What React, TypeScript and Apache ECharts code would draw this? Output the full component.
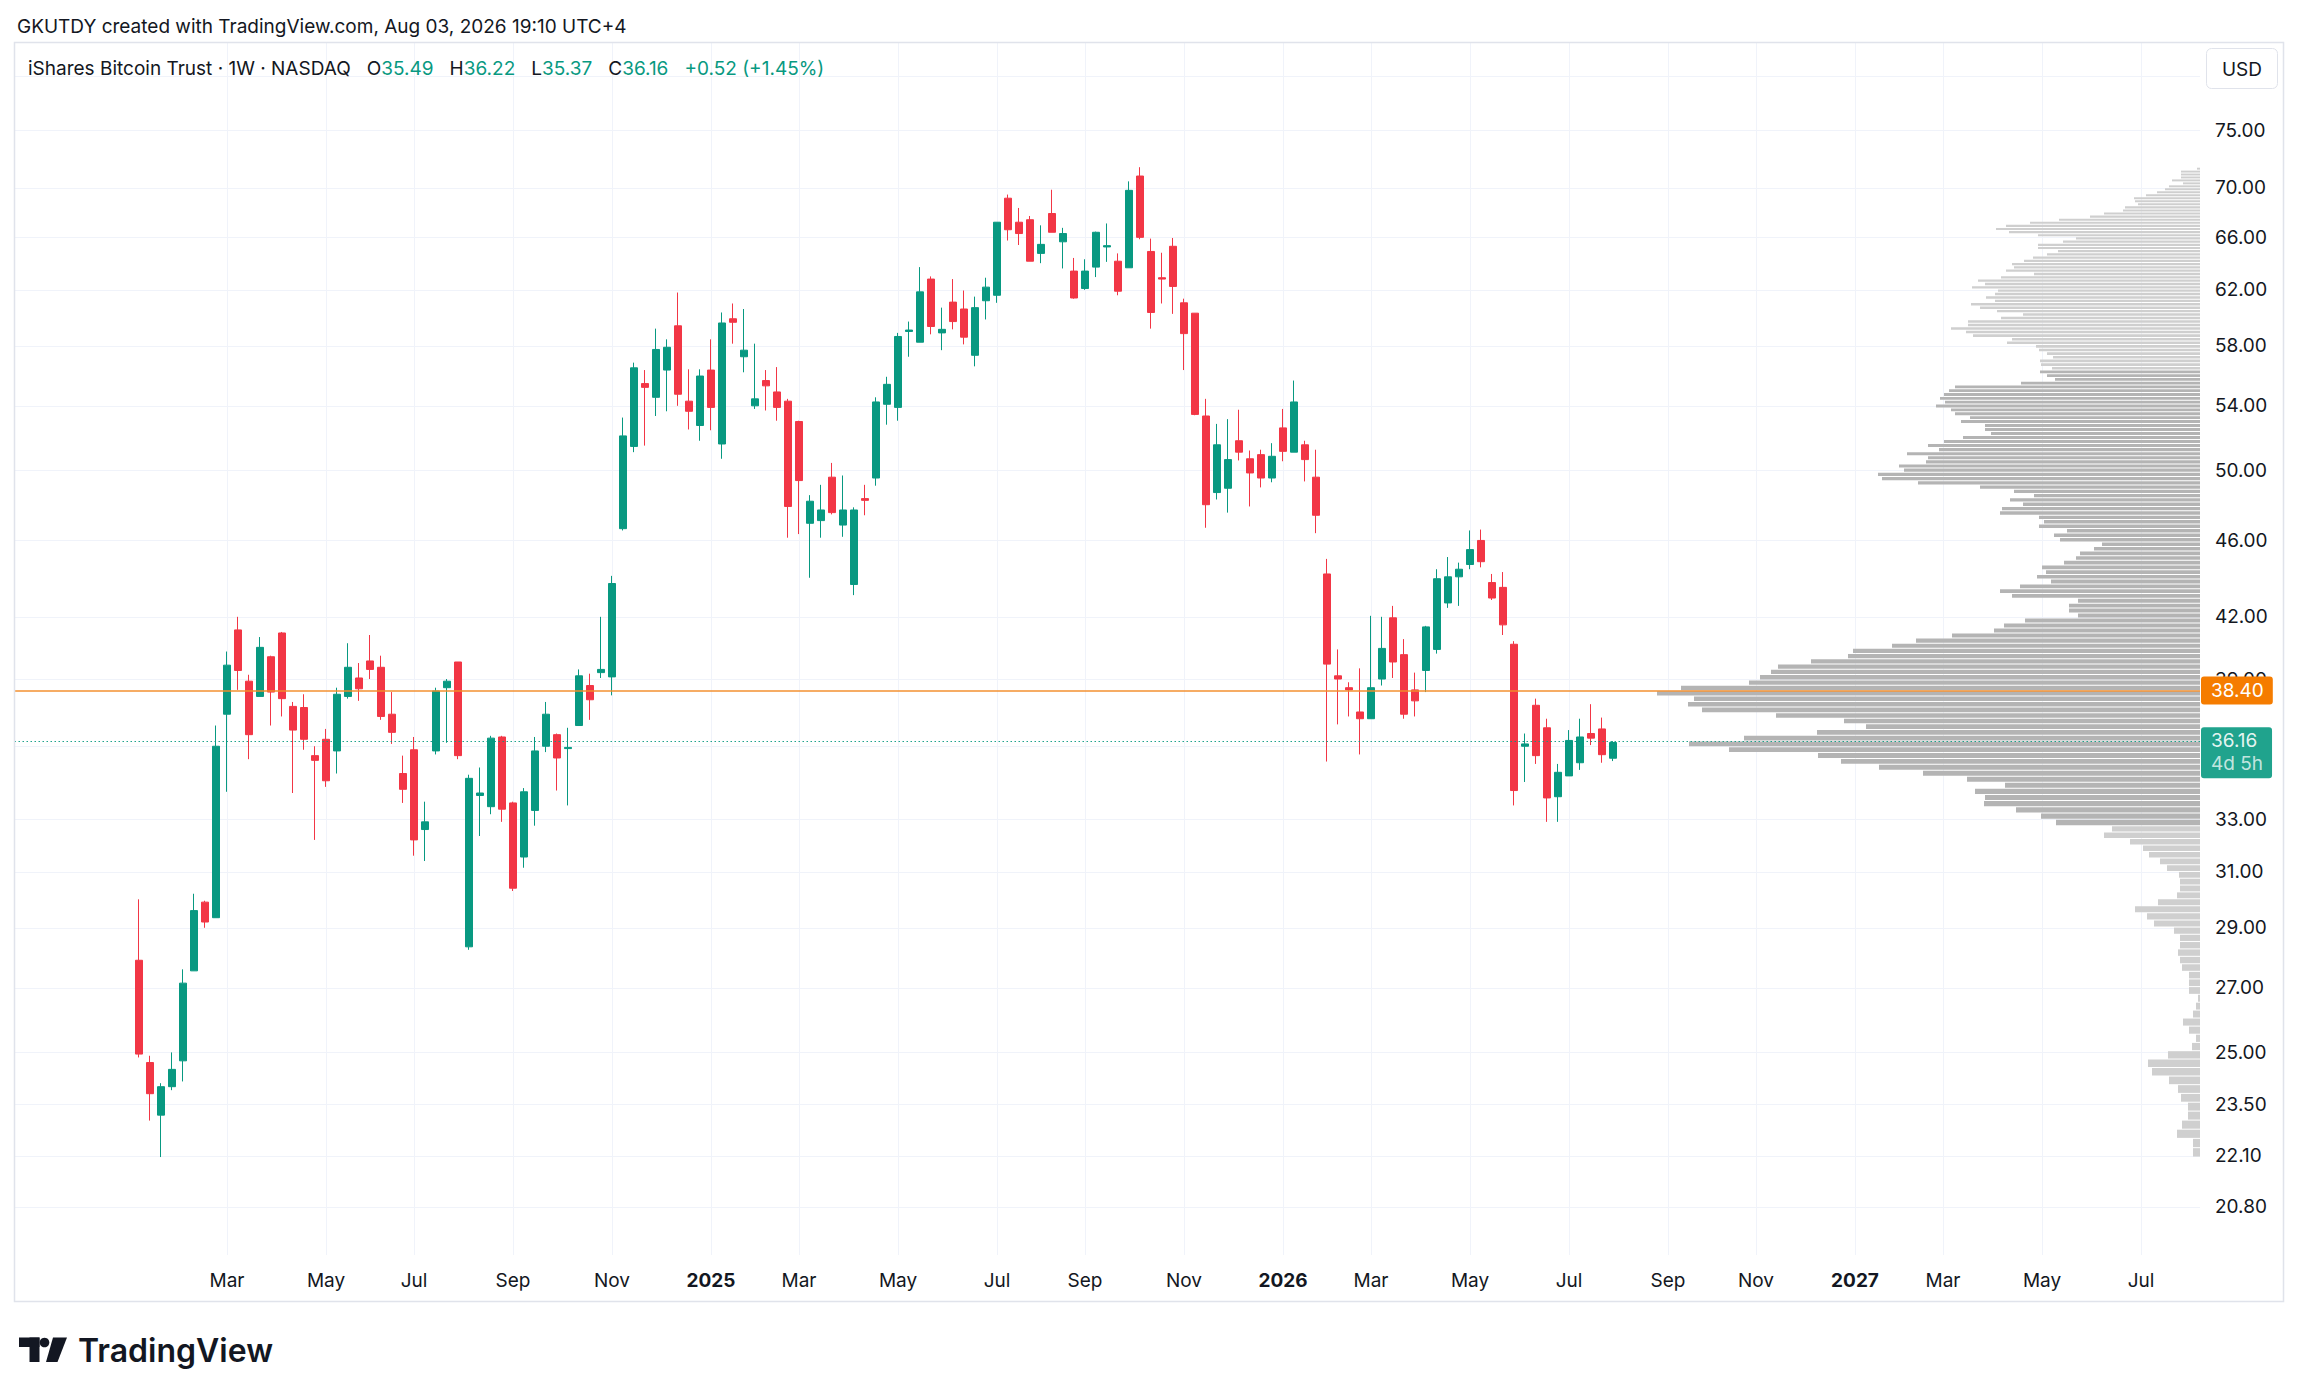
import React, { useEffect, useRef } from 'react';
import * as echarts from 'echarts';

// ---------- time axis ----------
const FIRST_CATEGORY_WEEK = '2023-10-23'; // first weekly slot visible at the left edge
const CATEGORY_WEEKS = 199; // weekly slots shown (incl. empty future space)
const FIRST_CANDLE_WEEK = '2024-01-08';

// first weekly bar of every labelled month
const timeTicks: [string, string][] = [
  ['2024-03-04', 'Mar'], ['2024-05-06', 'May'], ['2024-07-01', 'Jul'], ['2024-09-02', 'Sep'], ['2024-11-04', 'Nov'],
  ['2025-01-06', '2025'], ['2025-03-03', 'Mar'], ['2025-05-05', 'May'], ['2025-07-07', 'Jul'], ['2025-09-01', 'Sep'],
  ['2025-11-03', 'Nov'], ['2026-01-05', '2026'], ['2026-03-02', 'Mar'], ['2026-05-04', 'May'], ['2026-07-06', 'Jul'],
  ['2026-09-07', 'Sep'], ['2026-11-02', 'Nov'], ['2027-01-04', '2027'], ['2027-03-01', 'Mar'], ['2027-05-03', 'May'],
  ['2027-07-05', 'Jul'],
];

// ---------- weekly OHLC (IBIT, 1W) ----------
const weekOpen = [
  27.9, 24.7, 23.2, 24.0, 24.75, 27.55, 29.9, 29.35, 37.4, 41.35,
  38.9, 38.2, 40.05, 41.2, 37.75, 37.7, 35.6, 36.3, 35.8, 38.2,
  39.05, 39.85, 39.55, 37.4, 34.85, 35.85, 32.6, 35.8, 38.6, 39.8,
  28.35, 33.95, 33.5, 36.4, 33.65, 31.55, 33.35, 36.0, 36.5, 35.9,
  36.9, 38.7, 39.3, 39.1, 46.65, 51.45, 55.45, 54.55, 56.35, 59.4,
  54.3, 52.75, 56.35, 51.6, 59.9, 57.25, 54.0, 55.65, 54.9, 54.3,
  53.0, 46.95, 47.1, 49.6, 46.85, 43.65, 48.35, 49.55, 54.1, 53.9,
  59.0, 58.25, 62.8, 58.9, 61.1, 60.6, 57.35, 61.2, 61.6, 69.15,
  67.2, 67.4, 64.75, 67.9, 65.65, 63.4, 62.1, 63.7, 65.25, 64.15,
  63.65, 71.0, 64.9, 62.9, 65.3, 61.05, 60.3, 53.35, 48.7, 48.95,
  51.8, 50.7, 50.95, 49.55, 52.6, 51.1, 51.55, 49.6, 44.2, 39.15,
  38.6, 37.5, 37.2, 39.0, 41.95, 40.15, 38.5, 39.4, 40.4, 42.7,
  44.05, 44.7, 46.0, 43.75, 43.5, 40.65, 36.0, 37.8, 36.8, 33.9,
  34.75, 35.3, 36.55, 36.75, 35.49,
];
const weekHigh = [
  30.0, 24.9, 24.1, 25.0, 27.6, 30.2, 29.95, 36.9, 40.3, 42.0,
  39.2, 41.0, 40.1, 41.25, 37.95, 38.3, 36.0, 36.75, 38.6, 40.7,
  39.75, 41.1, 40.1, 38.4, 35.6, 36.4, 33.7, 38.6, 39.0, 39.8,
  34.8, 35.1, 36.45, 36.45, 33.7, 34.25, 36.4, 37.95, 36.55, 36.8,
  39.45, 39.25, 42.0, 44.1, 53.25, 56.85, 56.35, 59.2, 58.45, 61.8,
  56.4, 56.4, 58.45, 60.35, 61.0, 60.6, 58.15, 56.35, 56.55, 54.45,
  53.05, 48.55, 49.15, 50.45, 49.7, 47.85, 49.15, 54.55, 55.9, 58.9,
  59.7, 63.7, 63.0, 60.7, 62.8, 61.95, 61.5, 62.9, 67.2, 69.45,
  68.35, 67.7, 66.95, 69.85, 66.75, 64.4, 64.3, 66.45, 67.1, 64.75,
  70.55, 71.75, 65.9, 64.8, 65.95, 61.35, 60.3, 54.45, 52.85, 53.15,
  53.75, 51.2, 51.25, 51.65, 53.8, 55.65, 51.8, 51.25, 45.0, 40.4,
  38.85, 39.5, 42.05, 42.0, 42.55, 40.9, 39.3, 41.55, 44.45, 45.1,
  44.8, 46.55, 46.6, 44.2, 44.3, 40.8, 36.55, 38.1, 37.2, 35.25,
  36.7, 37.2, 37.85, 37.25, 36.22,
];
const weekLow = [
  24.85, 23.05, 22.07, 23.9, 24.15, 27.55, 29.0, 29.35, 34.1, 38.5,
  35.45, 38.2, 36.9, 37.3, 34.05, 35.85, 32.2, 34.3, 34.85, 38.1,
  38.0, 39.0, 37.15, 36.1, 33.65, 31.6, 31.4, 35.65, 36.15, 35.45,
  28.25, 32.35, 33.2, 32.9, 30.3, 31.15, 32.75, 35.75, 34.15, 33.55,
  36.9, 37.15, 39.05, 38.25, 46.55, 51.1, 51.5, 53.35, 53.65, 54.0,
  52.5, 51.8, 52.45, 50.7, 58.15, 56.2, 53.8, 53.7, 53.05, 46.15,
  46.35, 44.0, 46.15, 47.45, 46.2, 43.1, 47.4, 49.1, 52.8, 53.05,
  57.25, 58.25, 58.8, 57.7, 59.15, 58.1, 56.6, 59.85, 61.05, 65.75,
  65.4, 64.15, 64.0, 66.4, 63.6, 61.35, 62.0, 62.95, 64.1, 61.6,
  63.65, 65.85, 59.2, 61.0, 60.25, 56.35, 53.4, 46.7, 48.3, 47.55,
  50.6, 47.9, 49.0, 49.3, 50.55, 51.1, 49.35, 46.4, 35.35, 36.95,
  37.3, 35.65, 37.2, 38.7, 39.05, 37.2, 37.3, 38.4, 40.2, 42.45,
  42.55, 44.45, 44.55, 42.85, 41.1, 33.55, 34.5, 35.25, 32.9, 32.9,
  34.75, 35.0, 36.05, 35.3, 35.37,
];
const weekClose = [
  24.95, 23.8, 24.0, 24.5, 27.15, 29.6, 29.2, 36.0, 39.65, 39.4,
  36.5, 40.5, 38.4, 38.1, 36.7, 36.3, 35.4, 34.55, 38.3, 39.55,
  38.55, 39.45, 37.3, 36.6, 34.2, 32.2, 32.9, 38.45, 38.9, 35.6,
  34.65, 34.05, 36.35, 33.4, 30.4, 34.1, 35.8, 37.4, 35.5, 35.95,
  39.15, 38.05, 39.45, 43.7, 52.1, 56.5, 55.2, 57.75, 57.9, 54.75,
  53.65, 55.95, 53.9, 59.6, 59.65, 57.7, 54.45, 55.3, 53.9, 47.9,
  49.4, 48.2, 47.7, 47.55, 47.7, 47.7, 48.25, 54.25, 55.4, 58.65,
  59.1, 61.85, 59.35, 59.15, 59.7, 58.6, 60.7, 62.2, 67.2, 66.6,
  66.3, 64.15, 65.45, 66.4, 66.3, 61.4, 63.4, 66.4, 65.35, 61.9,
  69.8, 66.0, 60.35, 62.8, 62.25, 58.85, 53.45, 48.0, 51.55, 50.65,
  51.1, 49.85, 49.55, 50.85, 51.15, 54.25, 50.65, 47.4, 39.7, 39.0,
  38.5, 37.2, 38.6, 40.45, 39.8, 37.4, 38.0, 41.5, 43.95, 44.05,
  44.45, 45.5, 44.85, 42.95, 41.6, 34.15, 36.1, 35.6, 33.85, 34.9,
  36.25, 36.4, 36.35, 35.64, 36.16,
];

// ---------- price axis (log scale) ----------
const priceGridTicks = [80, 75, 70, 66, 62, 58, 54, 50, 46, 42, 39, 36, 33, 31, 29, 27, 25, 23.5, 22.1, 20.8];
// 80.00 sits under the currency box and 36.00 under the last-price tag
const priceLabelTicks = [75, 70, 66, 62, 58, 54, 50, 46, 42, 39, 33, 31, 29, 27, 25, 23.5, 22.1, 20.8];
const PRICE_MIN = 19.64;
const PRICE_MAX = 83.19;

// ---------- visible range volume profile ----------
const PROFILE_HIGH = 71.75;
const PROFILE_STEP = 0.2484; // price height of one row (200 rows)
const VALUE_AREA_HIGH = 56.3;
const VALUE_AREA_LOW = 32.8;
// relative volume per row, from the highest-priced row down
const profileVolume = [
  3, 19, 19, 19, 28, 17, 31, 35, 43, 54,
  66, 65, 62, 75, 77, 96, 110, 141, 170, 194,
  204, 191, 162, 124, 137, 162, 162, 142, 153, 167,
  176, 188, 186, 194, 166, 199, 222, 215, 228, 202,
  205, 214, 205, 229, 220, 203, 177, 199, 232, 232,
  249, 234, 227, 188, 193, 164, 161, 153, 147, 160,
  159, 148, 160, 153, 145, 179, 245, 251, 256, 260,
  255, 264, 249, 245, 230, 239, 215, 215, 209, 237,
  256, 272, 261, 293, 272, 274, 301, 296, 322, 318,
  282, 220, 186, 166, 190, 177, 198, 200, 161, 156,
  161, 133, 146, 140, 98, 106, 120, 124, 136, 158,
  154, 163, 149, 180, 200, 188, 122, 131, 131, 122,
  175, 196, 206, 248, 284, 308, 347, 352, 389, 422,
  429, 440, 451, 519, 543, 506, 512, 498, 424, 356,
  334, 383, 456, 511, 471, 382, 359, 321, 277, 233,
  195, 225, 215, 216, 184, 159, 144, 88, 96, 70,
  57, 51, 40, 33, 21, 20, 20, 23, 42, 65,
  53, 46, 26, 20, 20, 22, 20, 18, 11, 11,
  11, 2, 4, 7, 17, 11, 4, 8, 32, 52,
  48, 31, 22, 19, 12, 12, 18, 23, 7, 7,
];
const PROFILE_AXIS_MAX = 2185;

const POC_PRICE = 38.4;
const LAST_PRICE = 36.16;
const BAR_COUNTDOWN = '4d 5h';

const HEADER_TEXT = 'GKUTDY created with TradingView.com, Aug 03, 2026 19:10 UTC+4';

// ---------- helpers ----------
const L = Math.log;
const FONT = 'Inter, Roboto, "Noto Sans", sans-serif';
const GREEN = '#089981';
const RED = '#f23645';
const INK = '#131722';
const FS = 19;

function isoWeek(start: string, i: number): string {
  const [y, m, d] = start.split('-').map(Number);
  const t = new Date(Date.UTC(y, m - 1, d) + i * 7 * 86400000);
  const mm = String(t.getUTCMonth() + 1).padStart(2, '0');
  const dd = String(t.getUTCDate()).padStart(2, '0');
  return `${t.getUTCFullYear()}-${mm}-${dd}`;
}

function buildOption() {
  const categories = Array.from({ length: CATEGORY_WEEKS }, (_, i) => isoWeek(FIRST_CATEGORY_WEEK, i));
  const candleStart = categories.indexOf(FIRST_CANDLE_WEEK);
  const tickMap = new Map<string, string>(timeTicks);
  const candleData = weekOpen.map((o, i) => [
    candleStart + i, L(o), L(weekClose[i]), L(weekLow[i]), L(weekHigh[i]),
  ]);
  const profileData = profileVolume.map((v, k) => {
    const hi = PROFILE_HIGH - k * PROFILE_STEP;
    return [v, L(hi - PROFILE_STEP / 2), k];
  });

  const isTick = (_i: number, v: string) => tickMap.has(v);

  return {
    animation: false,
    textStyle: { fontFamily: FONT },
    grid: [
      { left: 18, right: 103, top: 43, bottom: 143 },
      { left: 15, right: 99, top: 43, bottom: 143 },
    ],
    xAxis: [
      {
        type: 'category', gridIndex: 0, data: categories, boundaryGap: false,
        axisLine: { show: false }, axisTick: { show: false },
        axisLabel: {
          interval: isTick,
          formatter: (v: string) => {
            const l = tickMap.get(v) || '';
            return /^\d{4}$/.test(l) ? `{y|${l}}` : l;
          },
          color: INK, fontSize: FS, margin: 16, fontFamily: FONT,
          rich: { y: { fontWeight: 'bold', fontSize: FS, color: INK, fontFamily: FONT } },
        },
        splitLine: { show: true, interval: isTick, lineStyle: { color: '#f0f3fa', width: 1 } },
      },
      { type: 'value', gridIndex: 1, inverse: true, min: 0, max: PROFILE_AXIS_MAX, show: false },
    ],
    yAxis: [
      { type: 'value', gridIndex: 0, min: L(PRICE_MIN), max: L(PRICE_MAX), show: false },
      {
        type: 'value', gridIndex: 1, position: 'right', min: L(PRICE_MIN), max: L(PRICE_MAX),
        axisLine: { show: false },
        axisTick: { show: false, customValues: priceGridTicks.map(L) },
        axisLabel: {
          customValues: priceLabelTicks.map(L),
          formatter: (v: number) => Math.exp(v).toFixed(2),
          color: INK, fontSize: FS, margin: 15, fontFamily: FONT, hideOverlap: false,
        },
        splitLine: { show: true, lineStyle: { color: '#f0f3fa', width: 1 } },
      },
    ],
    series: [
      {
        type: 'custom', name: 'profile', xAxisIndex: 1, yAxisIndex: 1, z: 1, silent: true,
        data: profileData,
        renderItem: (_p: any, api: any) => {
          const k = api.value(2);
          const vol = api.value(0);
          const hi = PROFILE_HIGH - k * PROFILE_STEP;
          const lo = hi - PROFILE_STEP;
          const mid = (hi + lo) / 2;
          const top = api.coord([0, L(hi)]);
          const bot = api.coord([vol, L(lo)]);
          const inVA = mid <= VALUE_AREA_HIGH && mid >= VALUE_AREA_LOW;
          return {
            type: 'rect',
            shape: { x: bot[0], y: top[1] + 0.5, width: top[0] - bot[0], height: Math.max(bot[1] - top[1] - 1, 0.8) },
            style: { fill: inVA ? '#b4b4b4' : '#cfcfcf' },
          };
        },
      },
      {
        type: 'candlestick', name: 'IBIT', xAxisIndex: 0, yAxisIndex: 0, z: 2,
        data: candleData,
        encode: { x: 0, y: [1, 2, 3, 4] },
        barWidth: 7,
        itemStyle: {
          color: GREEN, color0: RED, borderColor: GREEN, borderColor0: RED, borderWidth: 1,
        },
      },
      {
        type: 'line', name: 'levels', xAxisIndex: 1, yAxisIndex: 1, data: [], silent: true,
        markLine: {
          silent: true, symbol: ['none', 'none'], animation: false,
          data: [
            {
              yAxis: L(POC_PRICE),
              lineStyle: { color: 'rgba(243,140,40,0.72)', width: 2, type: 'solid' },
              label: {
                show: true, position: 'start', distance: 1, formatter: POC_PRICE.toFixed(2),
                backgroundColor: '#f57c00', color: '#ffffff', fontSize: FS, lineHeight: 21,
                padding: [4, 9, 3, 10], borderRadius: 3, fontFamily: FONT,
              },
            },
            {
              yAxis: L(LAST_PRICE),
              lineStyle: { color: GREEN, width: 1, type: [1.5, 2.5], opacity: 0.9 },
              label: {
                show: true, position: 'start', distance: 1,
                formatter: `{a|${LAST_PRICE.toFixed(2)}}\n{b|${BAR_COUNTDOWN}}`,
                backgroundColor: GREEN, padding: [2, 9, 3, 10], borderRadius: 3, offset: [0, 12],
                rich: {
                  a: { color: '#ffffff', fontSize: FS, lineHeight: 23, fontFamily: FONT },
                  b: { color: 'rgba(255,255,255,0.82)', fontSize: FS, lineHeight: 23, fontFamily: FONT },
                },
              },
            },
          ],
        },
      },
    ],
    graphic: [
      {
        type: 'rect', z: 100, silent: true,
        shape: { x: 14.5, y: 42.5, width: 2269, height: 1259 },
        style: { fill: 'none', stroke: '#e0e3eb', lineWidth: 1.5 },
      },
      {
        type: 'text', z: 100, silent: true,
        style: { x: 17, y: 26, text: HEADER_TEXT, fill: INK, fontSize: 19, fontFamily: FONT, verticalAlign: 'middle' },
      },
      {
        type: 'text', z: 100, silent: true,
        style: {
          x: 28, y: 68, verticalAlign: 'middle', fontFamily: FONT, fontSize: 19,
          text: '{n|iShares Bitcoin Trust · 1W · NASDAQ}   {k|O}{v|35.49}   {k|H}{v|36.22}   {k|L}{v|35.37}   {k|C}{v|36.16}   {v|+0.52 (+1.45%)}',
          rich: {
            n: { fill: INK, color: INK, fontSize: 19, fontFamily: FONT },
            k: { fill: INK, color: INK, fontSize: 19, fontFamily: FONT },
            v: { fill: GREEN, color: GREEN, fontSize: 19, fontFamily: FONT },
          },
        },
      },
      {
        type: 'rect', z: 100, silent: true,
        shape: { x: 2206.5, y: 48.5, width: 71, height: 40, r: 5 },
        style: { fill: '#ffffff', stroke: '#e0e3eb', lineWidth: 1 },
      },
      {
        type: 'text', z: 101, silent: true,
        style: { x: 2242, y: 69, text: 'USD', fill: INK, fontSize: FS, fontFamily: FONT, align: 'center', verticalAlign: 'middle' },
      },
      {
        type: 'group', z: 100, silent: true,
        children: [
          { type: 'rect', shape: { x: 19, y: 1337.5, width: 20.5, height: 9.5 }, style: { fill: INK } },
          { type: 'rect', shape: { x: 29.5, y: 1337.5, width: 10, height: 24.5 }, style: { fill: INK } },
          { type: 'circle', shape: { cx: 44.5, cy: 1342.5, r: 4.8 }, style: { fill: INK } },
          { type: 'polygon', shape: { points: [[53, 1337.5], [67, 1337.5], [57.5, 1362], [46, 1362]] }, style: { fill: INK } },
          {
            type: 'text',
            style: { x: 78, y: 1350, text: 'TradingView', fill: INK, fontSize: 32, fontWeight: 600, fontFamily: FONT, verticalAlign: 'middle' },
          },
        ],
      },
    ],
  };
}

export default function App() {
  const ref = useRef<HTMLDivElement>(null);
  useEffect(() => {
    if (!ref.current) return;
    const chart = echarts.init(ref.current, undefined, { renderer: 'svg' });
    chart.setOption(buildOption() as any);
    return () => chart.dispose();
  }, []);
  return (
    <div
      ref={ref}
      style={{ position: 'absolute', left: 0, top: 0, width: 2299, height: 1398, background: '#ffffff' }}
    />
  );
}
